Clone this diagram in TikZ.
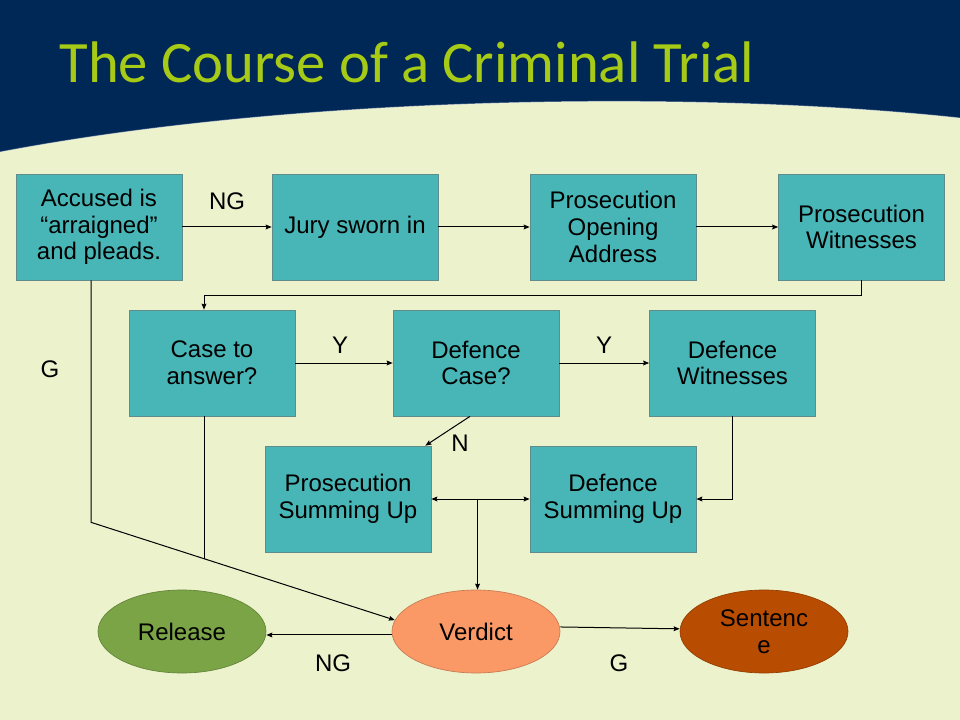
\documentclass[tikz,border=0pt]{standalone}
\usepackage{xcolor}
\usepackage{fontspec}
\setmainfont{Liberation Sans}
\newfontfamily\titlefont{Carlito}
\usepackage{tikz}
\usetikzlibrary{shapes.geometric, arrows.meta}

\definecolor{navy}{RGB}{0,40,86}
\definecolor{cream}{RGB}{236,242,204}
\definecolor{lime}{RGB}{166,202,22}
\definecolor{stagefill}{RGB}{72,182,182}
\definecolor{stageedge}{RGB}{96,140,140}
\definecolor{releasegreen}{RGB}{123,164,70}
\definecolor{verdictorange}{RGB}{250,152,102}
\definecolor{sentencebrown}{RGB}{184,76,0}

\begin{document}
\begin{tikzpicture}[x=0.75pt, y=-0.75pt, >={Stealth[length=4.5pt, width=3.6pt, inset=0.6pt]}, line width=0.75pt,
  stage/.style={rectangle, draw=stageedge, fill=stagefill, line width=0.5pt,
    minimum width=124.5pt, minimum height=79.5pt, inner sep=0pt, align=center,
    font=\fontsize{18}{20}\selectfont},
  outcome/.style={ellipse, draw=#1!80!black, fill=#1, line width=0.5pt,
    minimum width=126pt, minimum height=62.25pt, inner sep=0pt, align=center,
    font=\fontsize{18}{20}\selectfont},
  cond/.style={inner sep=0pt, font=\fontsize{18}{20}\selectfont}]

\useasboundingbox (0,0) rectangle (960,720);
\fill [cream] (0,0) rectangle (960,720);
\fill [navy] (0,0) -- (960,0) -- (960,118) .. controls (700,90) and (300,95) .. (0,152) -- cycle;
\draw [white, opacity=0.4, line width=0.75pt] (960,118) .. controls (700,90) and (300,95) .. (0,152);

\node [anchor=base west, inner sep=0pt, text=lime, font=\titlefont\fontsize{44}{52}\selectfont]
  (title) at (59,83) {The Course of a Criminal Trial};

\foreach \n/\x/\y/\t in {acc/99/227/{Accused is\\“arraigned”\\and pleads.},
    jury/355/227/{Jury sworn in}, popen/613/227/{Prosecution\\Opening\\Address},
    pwit/861.5/227/{Prosecution\\Witnesses}, case/212/363/{Case to\\answer?},
    dcase/476/363/{Defence\\Case?}, dwit/732.5/363/{Defence\\Witnesses},
    psum/348/499/{Prosecution\\Summing Up}, dsum/613/499/{Defence\\Summing Up}}
  \node [stage] (\n) at (\x,\y) {\t};

\foreach \n/\x/\c/\t in {release/182/releasegreen/Release,
    verdict/476/verdictorange/Verdict, sentence/764/sentencebrown/{Sentenc\\e}}
  \node [outcome=\c] (\n) at (\x,631.5) {\t};

\foreach \t/\x/\y [count=\i] in {NG/227/201, G/50/369, Y/340/345, Y/604/345,
    N/460/443, NG/333/663, G/619/663}
  \node [cond] (cond-\i) at (\x,\y) {\t};

\foreach \a/\b in {acc/jury, jury/popen, popen/pwit, case/dcase, dcase/dwit}
  \draw [->] (\a) -- (\b);

\draw [->] (pwit.south) -- ++(0,15) -| ([xshift=-6pt]case.north);
\draw [->] ([xshift=-4.5pt]dcase.south) -- ([xshift=-4.5pt]psum.north east);
\draw [->] (dwit.south) |- (dsum.east);
\draw [<->] (psum) -- (dsum) coordinate [pos=0.47] (split);
\draw [->] (split) -- (split |- verdict.north);

\draw [->] ([xshift=-6pt]acc.south) -- ++(0,242) coordinate (g-bend) -- (verdict.172);
\coordinate (join) at (204,558.5);
\draw ([xshift=-6pt]case.south) -- (join);

\draw [->] ([yshift=-2.6pt]verdict.west) -- ([yshift=-2.6pt]release.east);
\draw [->] ([yshift=3.4pt]verdict.east) -- ([yshift=2pt]sentence.west);

\end{tikzpicture}
\end{document}
